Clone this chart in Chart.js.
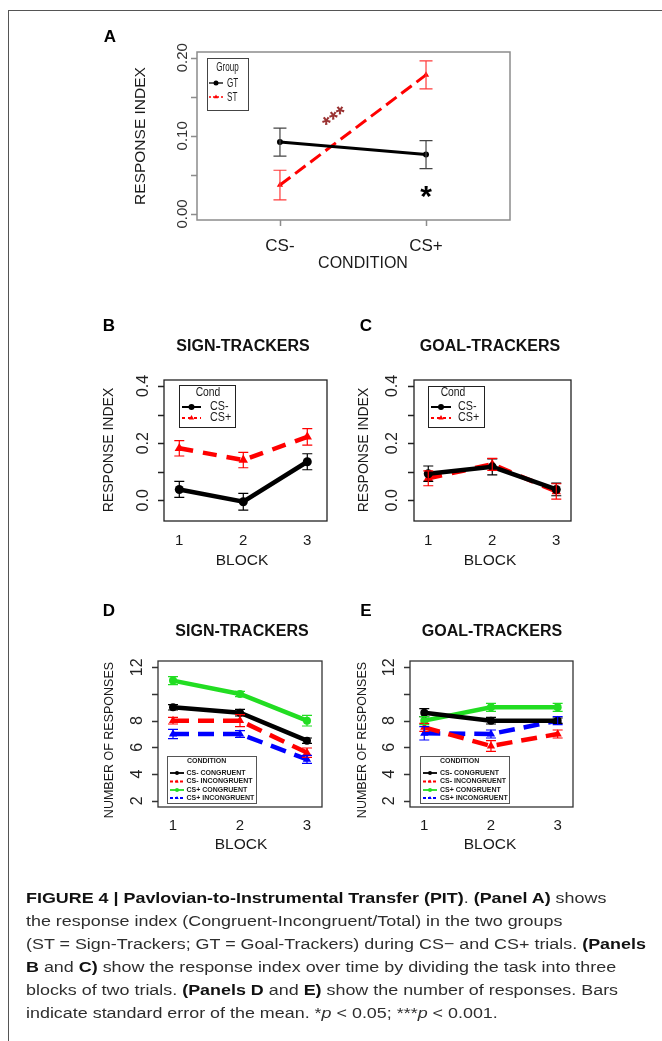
<!DOCTYPE html>
<html>
<head>
<meta charset="utf-8">
<script src="https://cdn.jsdelivr.net/npm/chart.js@4.4.1/dist/chart.umd.min.js"></script>
<style>
  body { margin: 0; background: #fff; width: 662px; height: 1041px; overflow: hidden; position: relative; }
  #frame { position: absolute; left: 8px; top: 10px; width: 700px; height: 1100px;
           border-left: 1px solid #555; border-top: 1px solid #555; }
  canvas { position: absolute; left: 0; top: 0; }
  #caption { position: absolute; left: 26px; top: 886px; font-family: "Liberation Sans", Arial, sans-serif;
             font-size: 15.5px; line-height: 23px; color: #2e2e2e; white-space: nowrap;
             transform: scaleX(1.155); transform-origin: 0 0; }
  #caption b { color: #111; }
</style>
</head>
<body>
<div id="frame"></div>
<canvas id="chartA" width="662" height="1041"></canvas>
<canvas id="chartB" width="662" height="1041"></canvas>
<canvas id="chartC" width="662" height="1041"></canvas>
<canvas id="chartD" width="662" height="1041"></canvas>
<canvas id="chartE" width="662" height="1041"></canvas>
<div id="caption">
<b>FIGURE 4 | Pavlovian-to-Instrumental Transfer (PIT)</b>. <b>(Panel A)</b> shows<br>
the response index (Congruent-Incongruent/Total) in the two groups<br>
(ST = Sign-Trackers; GT = Goal-Trackers) during CS− and CS+ trials. <b>(Panels</b><br>
<b>B</b> and <b>C)</b> show the response index over time by dividing the task into three<br>
blocks of two trials. <b>(Panels D</b> and <b>E)</b> show the number of responses. Bars<br>
indicate standard error of the mean. *<i>p</i> &lt; 0.05; ***<i>p</i> &lt; 0.001.
</div>

<script>
// panel A: response index by condition
const conditions = ['CS-', 'CS+'];
const conditionPos = [1, 2];
const gtIndex = [0.092, 0.076];
const gtIndexSe = [0.018, 0.018];
const stIndex = [0.037, 0.178];
const stIndexSe = [0.019, 0.018];
const indexTicksA = [0, 0.05, 0.10, 0.15, 0.20];
const indexLabelsA = ['0.00', '', '0.10', '', '0.20'];

// panels B, C: response index by block
const blocks = [1, 2, 3];
const blockLabels = ['1', '2', '3'];
const indexTicks = [0, 0.1, 0.2, 0.3, 0.4];
const indexLabels = ['0.0', '', '0.2', '', '0.4'];
const stCsMinus = [0.038, -0.005, 0.135];
const stCsMinusSe = [0.028, 0.029, 0.028];
const stCsPlus = [0.182, 0.141, 0.222];
const stCsPlusSe = [0.027, 0.027, 0.029];
const gtCsMinus = [0.093, 0.117, 0.038];
const gtCsMinusSe = [0.027, 0.028, 0.022];
const gtCsPlus = [0.077, 0.126, 0.031];
const gtCsPlusSe = [0.026, 0.021, 0.027];

// panels D, E: number of responses
const responseTicks = [2, 4, 6, 8, 10, 12];
const responseLabels = ['2', '4', '6', '8', '', '12'];
const conditionNames = ['CS- CONGRUENT', 'CS- INCONGRUENT', 'CS+ CONGRUENT', 'CS+ INCONGRUENT'];
const stCongMinus = [9.0, 8.6, 6.5];
const stCongMinusSe = [0.2, 0.25, 0.2];
const stIncongMinus = [8.0, 8.0, 5.6];
const stIncongMinusSe = [0.25, 0.45, 0.35];
const stCongPlus = [11.0, 10.0, 8.0];
const stCongPlusSe = [0.3, 0.2, 0.4];
const stIncongPlus = [7.0, 7.0, 5.1];
const stIncongPlusSe = [0.35, 0.25, 0.3];
const gtCongMinus = [8.6, 8.0, 8.0];
const gtCongMinusSe = [0.3, 0.25, 0.2];
const gtIncongMinus = [7.5, 6.1, 7.0];
const gtIncongMinusSe = [0.3, 0.4, 0.3];
const gtCongPlus = [8.0, 9.0, 9.0];
const gtCongPlusSe = [0.3, 0.3, 0.3];
const gtIncongPlus = [7.05, 7.0, 8.0];
const gtIncongPlusSe = [0.5, 0.3, 0.3];

const FONT = '"Liberation Sans", Arial, sans-serif';
const RED = '#ff0000', BLUE = '#0000ff', GREEN = '#22dd22';

function txt(ctx, s, x, y, o) {
    ctx.save();
    ctx.translate(x, y);
    if (o.rot) ctx.rotate(o.rot);
    if (o.sx) ctx.scale(o.sx, 1);
    ctx.font = o.font;
    ctx.fillStyle = o.color || '#1a1a1a';
    ctx.textAlign = o.align || 'center';
    ctx.textBaseline = o.base || 'middle';
    ctx.fillText(s, 0, 0);
    ctx.restore();
}

function marker(ctx, style, r, x, y, color) {
    ctx.save();
    ctx.fillStyle = color;
    Chart.helpers.drawPoint(ctx, { pointStyle: style, radius: r, rotation: 0, borderWidth: 0 }, x, y);
    ctx.restore();
}

function drawLegend(ctx, lg, series) {
    ctx.save();
    ctx.strokeStyle = lg.boxColor;
    ctx.lineWidth = 1;
    ctx.strokeRect(lg.x + 0.5, lg.y + 0.5, lg.w, lg.h);
    txt(ctx, lg.title, lg.titleX, lg.titleY, { font: lg.titleFont, sx: lg.sx, align: lg.titleAlign || 'center' });
    series.forEach((s, i) => {
        const y = lg.rows[i];
        ctx.strokeStyle = s.color;
        ctx.lineWidth = lg.lw;
        ctx.setLineDash(s.dash ? lg.dash : []);
        ctx.beginPath();
        ctx.moveTo(lg.x0, y);
        ctx.lineTo(lg.x1, y);
        ctx.stroke();
        ctx.setLineDash([]);
        marker(ctx, s.point, lg.r, (lg.x0 + lg.x1) / 2, y, s.color);
        txt(ctx, s.label, lg.textX, y, { font: lg.font, sx: lg.sx, align: 'left' });
    });
    ctx.restore();
}

function rPanel(p) {
    const frame = {
        id: 'rframe',
        afterDatasetsDraw(chart) {
            const ctx = chart.ctx;
            const xs = chart.scales.x, ys = chart.scales.y;
            ctx.save();
            chart.data.datasets.forEach((ds) => {
                ctx.strokeStyle = ds.errColor || ds.borderColor;
                ctx.lineWidth = 1.2;
                ds.data.forEach((pt, i) => {
                    const px = xs.getPixelForValue(pt.x);
                    const top = ys.getPixelForValue(pt.y + ds.se[i]);
                    const bot = ys.getPixelForValue(pt.y - ds.se[i]);
                    ctx.beginPath();
                    ctx.moveTo(px, top); ctx.lineTo(px, bot);
                    ctx.moveTo(px - p.capHalf, top); ctx.lineTo(px + p.capHalf, top);
                    ctx.moveTo(px - p.capHalf, bot); ctx.lineTo(px + p.capHalf, bot);
                    ctx.stroke();
                });
            });
            ctx.restore();
        },
        afterDraw(chart) {
            const ctx = chart.ctx;
            const a = chart.chartArea;
            const xs = chart.scales.x, ys = chart.scales.y;
            ctx.save();
            // box and ticks, base-R style
            ctx.strokeStyle = p.boxColor;
            ctx.lineWidth = p.boxWidth;
            ctx.strokeRect(a.left, a.top, a.right - a.left, a.bottom - a.top);
            ctx.beginPath();
            p.yTicks.forEach((v) => {
                const py = Math.round(ys.getPixelForValue(v)) + 0.5;
                ctx.moveTo(a.left - 6, py);
                ctx.lineTo(a.left, py);
            });
            if (p.xTickMarks) {
                p.xs.forEach((v) => {
                    const px = Math.round(xs.getPixelForValue(v)) + 0.5;
                    ctx.moveTo(px, a.bottom);
                    ctx.lineTo(px, a.bottom + 6);
                });
            }
            ctx.stroke();
            p.yTicks.forEach((v, i) => {
                if (p.yLabels[i]) txt(ctx, p.yLabels[i], p.yLabelX, ys.getPixelForValue(v),
                    { font: p.yLabelFont, rot: -Math.PI / 2, color: p.tickColor });
            });
            p.xs.forEach((v, i) => {
                txt(ctx, p.xLabels[i], xs.getPixelForValue(v), p.xLabelY, { font: p.xLabelFont });
            });
            txt(ctx, p.xTitle[0], p.xTitle[1], p.xTitle[2], { font: p.xTitle[3] });
            txt(ctx, p.yTitle[0], p.yTitle[1], p.yTitle[2], { font: p.yTitle[3], rot: -Math.PI / 2 });
            txt(ctx, p.letter, p.letterPos[0], p.letterPos[1], { font: 'bold 17px ' + FONT, color: '#000' });
            if (p.title) txt(ctx, p.title, p.titlePos[0], p.titlePos[1], { font: 'bold 16px ' + FONT, color: '#111' });
            drawLegend(ctx, p.legend, p.series);
            (p.notes || []).forEach((n) => {
                txt(ctx, n.text, xs.getPixelForValue(n.x), ys.getPixelForValue(n.y),
                    { font: n.font, color: n.color, rot: n.rot || 0, base: 'alphabetic' });
            });
            ctx.restore();
        }
    };

    return new Chart(document.getElementById(p.id), {
        type: 'line',
        data: {
            datasets: p.series.map((s) => ({
                label: s.label,
                data: p.xs.map((x, i) => ({ x: x, y: s.values[i] })),
                se: s.se,
                errColor: s.errColor,
                borderColor: s.color,
                backgroundColor: s.color,
                borderWidth: p.lineWidth,
                borderDash: s.dash || [],
                pointStyle: s.point,
                pointRadius: s.point === 'triangle' ? p.pointSize * 1.2 : p.pointSize,
                pointBorderWidth: 0,
                tension: 0,
                fill: false
            }))
        },
        options: {
            responsive: false,
            animation: false,
            devicePixelRatio: 1,
            layout: { padding: { left: p.box.l, top: p.box.t, right: 662 - p.box.r, bottom: 1041 - p.box.b } },
            plugins: { legend: { display: false }, tooltip: { enabled: false } },
            scales: {
                x: { type: 'linear', min: p.xMin, max: p.xMax, display: false },
                y: { type: 'linear', min: p.yMin, max: p.yMax, display: false }
            }
        },
        plugins: [frame]
    });
}

// ---------- panel A ----------
rPanel({
    id: 'chartA', letter: 'A', letterPos: [110, 37],
    box: { l: 197, r: 510, t: 52, b: 220 }, boxColor: '#8c8c8c', boxWidth: 1.5, tickColor: '#333',
    xMin: 0.432, xMax: 2.575, yMin: -0.0077, yMax: 0.2073,
    xs: conditionPos, xLabels: conditions, xLabelY: 246, xLabelFont: '17px ' + FONT, xTickMarks: true,
    yTicks: indexTicksA, yLabels: indexLabelsA, yLabelX: 182.5, yLabelFont: '15px ' + FONT,
    xTitle: ['CONDITION', 363, 264, '16px ' + FONT],
    yTitle: ['RESPONSE INDEX', 141, 136, '15.5px ' + FONT],
    lineWidth: 3, pointSize: 3, capHalf: 6.5,
    series: [
        { label: 'GT', values: gtIndex, se: gtIndexSe, color: '#000', errColor: '#444', point: 'circle' },
        { label: 'ST', values: stIndex, se: stIndexSe, color: RED, errColor: '#ff3a3a', dash: [13, 6], point: 'triangle' }
    ],
    legend: {
        x: 207, y: 58, w: 41, h: 52, boxColor: '#444', title: 'Group', titleX: 227.5, titleY: 67,
        titleFont: '13px ' + FONT, font: '13px ' + FONT, sx: 0.62,
        rows: [83, 97], x0: 209, x1: 223, textX: 227, lw: 1.3, dash: [2, 2], r: 2.5
    },
    notes: [
        { text: '***', x: 1.41, y: 0.115, font: 'bold 22px ' + FONT, color: '#9a3232', rot: -0.65 },
        { text: '*', x: 2.0, y: 0.010, font: 'bold 30px ' + FONT, color: '#000' }
    ]
});

// ---------- panel B ----------
const cfgIndexSeries = (minus, minusSe, plus, plusSe) => [
    { label: 'CS-', values: minus, se: minusSe, color: '#000', point: 'circle' },
    { label: 'CS+', values: plus, se: plusSe, color: RED, dash: [14, 10], point: 'triangle' }
];

rPanel({
    id: 'chartB', letter: 'B', letterPos: [109, 326], title: 'SIGN-TRACKERS', titlePos: [243, 347],
    box: { l: 164, r: 327, t: 380, b: 521 }, boxColor: '#222', boxWidth: 1.3, tickColor: '#222',
    xMin: 0.761, xMax: 3.308, yMin: -0.0724, yMax: 0.421,
    xs: blocks, xLabels: blockLabels, xLabelY: 541, xLabelFont: '15px ' + FONT,
    yTicks: indexTicks, yLabels: indexLabels, yLabelX: 143.5, yLabelFont: '16px ' + FONT,
    xTitle: ['BLOCK', 242, 561, '15.5px ' + FONT],
    yTitle: ['RESPONSE INDEX', 109.5, 450, '14px ' + FONT],
    lineWidth: 4.5, pointSize: 4.5, capHalf: 5,
    series: cfgIndexSeries(stCsMinus, stCsMinusSe, stCsPlus, stCsPlusSe),
    legend: {
        x: 179, y: 385, w: 56, h: 42, boxColor: '#222', title: 'Cond', titleX: 208, titleY: 393,
        titleFont: '12px ' + FONT, font: '12.5px ' + FONT, sx: 0.86,
        rows: [407, 418], x0: 182, x1: 201, textX: 210, lw: 2, dash: [3, 3], r: 3
    }
});

// ---------- panel C ----------
rPanel({
    id: 'chartC', letter: 'C', letterPos: [366, 326], title: 'GOAL-TRACKERS', titlePos: [490, 347],
    box: { l: 414, r: 571, t: 380, b: 521 }, boxColor: '#222', boxWidth: 1.3, tickColor: '#222',
    xMin: 0.777, xMax: 3.23, yMin: -0.0724, yMax: 0.421,
    xs: blocks, xLabels: blockLabels, xLabelY: 541, xLabelFont: '15px ' + FONT,
    yTicks: indexTicks, yLabels: indexLabels, yLabelX: 392.5, yLabelFont: '16px ' + FONT,
    xTitle: ['BLOCK', 490, 561, '15.5px ' + FONT],
    yTitle: ['RESPONSE INDEX', 364, 450, '14px ' + FONT],
    lineWidth: 4.5, pointSize: 4.5, capHalf: 5,
    series: cfgIndexSeries(gtCsMinus, gtCsMinusSe, gtCsPlus, gtCsPlusSe),
    legend: {
        x: 428, y: 386, w: 56, h: 41, boxColor: '#222', title: 'Cond', titleX: 453, titleY: 393,
        titleFont: '12px ' + FONT, font: '12.5px ' + FONT, sx: 0.86,
        rows: [407, 418], x0: 431, x1: 451, textX: 458, lw: 2, dash: [3, 3], r: 3
    }
});

// ---------- panels D, E ----------
const responseSeries = (vals, ses) => [
    { label: conditionNames[0], values: vals[0], se: ses[0], color: '#000', point: 'circle' },
    { label: conditionNames[1], values: vals[1], se: ses[1], color: RED, dash: [16, 9], point: 'triangle' },
    { label: conditionNames[2], values: vals[2], se: ses[2], color: GREEN, point: 'circle' },
    { label: conditionNames[3], values: vals[3], se: ses[3], color: BLUE, dash: [16, 9], point: 'triangle' }
];

rPanel({
    id: 'chartD', letter: 'D', letterPos: [109, 611], title: 'SIGN-TRACKERS', titlePos: [242, 632],
    box: { l: 158, r: 322, t: 661, b: 807 }, boxColor: '#333', boxWidth: 1.3, tickColor: '#222',
    xMin: 0.776, xMax: 3.224, yMin: 1.53, yMax: 12.47,
    xs: blocks, xLabels: blockLabels, xLabelY: 826, xLabelFont: '15px ' + FONT,
    yTicks: responseTicks, yLabels: responseLabels, yLabelX: 138, yLabelFont: '16px ' + FONT,
    xTitle: ['BLOCK', 241, 845, '15.5px ' + FONT],
    yTitle: ['NUMBER OF RESPONSES', 110, 740, '12.5px ' + FONT],
    lineWidth: 4.5, pointSize: 4, capHalf: 5,
    series: responseSeries([stCongMinus, stIncongMinus, stCongPlus, stIncongPlus],
        [stCongMinusSe, stIncongMinusSe, stCongPlusSe, stIncongPlusSe]),
    legend: {
        x: 167, y: 756, w: 89, h: 47, boxColor: '#555', title: 'CONDITION', titleX: 187, titleY: 761,
        titleAlign: 'left', titleFont: 'bold 7px ' + FONT, font: 'bold 7px ' + FONT, sx: 1,
        rows: [773, 781.5, 790, 798], x0: 170, x1: 184, textX: 186.5, lw: 1.8, dash: [3, 2], r: 2
    }
});

rPanel({
    id: 'chartE', letter: 'E', letterPos: [366, 611], title: 'GOAL-TRACKERS', titlePos: [492, 632],
    box: { l: 410, r: 573, t: 661, b: 807 }, boxColor: '#333', boxWidth: 1.3, tickColor: '#222',
    xMin: 0.786, xMax: 3.23, yMin: 1.53, yMax: 12.47,
    xs: blocks, xLabels: blockLabels, xLabelY: 826, xLabelFont: '15px ' + FONT,
    yTicks: responseTicks, yLabels: responseLabels, yLabelX: 390, yLabelFont: '16px ' + FONT,
    xTitle: ['BLOCK', 490, 845, '15.5px ' + FONT],
    yTitle: ['NUMBER OF RESPONSES', 363, 740, '12.5px ' + FONT],
    lineWidth: 4.5, pointSize: 4, capHalf: 5,
    series: responseSeries([gtCongMinus, gtIncongMinus, gtCongPlus, gtIncongPlus],
        [gtCongMinusSe, gtIncongMinusSe, gtCongPlusSe, gtIncongPlusSe]),
    legend: {
        x: 420, y: 756, w: 89, h: 47, boxColor: '#555', title: 'CONDITION', titleX: 440, titleY: 761,
        titleAlign: 'left', titleFont: 'bold 7px ' + FONT, font: 'bold 7px ' + FONT, sx: 1,
        rows: [773, 781.5, 790, 798], x0: 423, x1: 437, textX: 440, lw: 1.8, dash: [3, 2], r: 2
    }
});
</script>
</body>
</html>
